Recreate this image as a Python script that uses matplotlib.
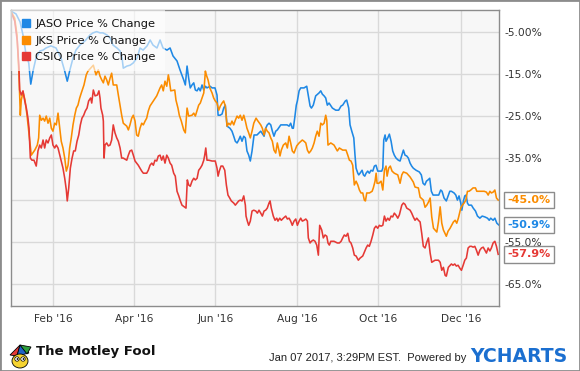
import matplotlib
matplotlib.use("Agg")
import matplotlib.pyplot as plt
import matplotlib.dates as mdates
from matplotlib.lines import Line2D
from matplotlib.patches import Rectangle, Ellipse, Polygon, Circle
import pandas as pd

# start of the one-year window
start = pd.Timestamp("2016-01-07")

# (days since start, price % change)
jaso = [(0, 0.0), (4.0, -0.7), (7.0, -2.6), (9.2, -5.7), (11.4, -10.2), (13.5, -12.4), (15.0, -17.4),
        (16.7, -14.3), (18.9, -11.2), (21.9, -9.5), (24.2, -9.3), (26.4, -8.8), (30.1, -8.3), (33.9, -8.8),
        (37.6, -11.2), (40.4, -14.3), (42.3, -16.7), (44.3, -14.0), (46.6, -11.2), (48.8, -9.3), (51.8, -8.1),
        (55.6, -7.1), (59.3, -5.7), (61.6, -5.2), (64.3, -4.9), (66.8, -5.2), (69.0, -5.2), (72.0, -5.7),
        (74.3, -6.4), (76.5, -8.1), (79.5, -8.8), (81.8, -9.5), (83.3, -11.2), (84.2, -13.6), (87.0, -13.1),
        (89.3, -12.9), (91.5, -12.4), (94.5, -11.2), (96.7, -8.8), (99.0, -9.3), (102.0, -8.3), (104.3, -6.9),
        (106.4, -8.1), (109.4, -8.8), (111.7, -6.9), (113.9, -8.8), (116.9, -9.3), (119.2, -8.8), (121.4, -10.7),
        (124.4, -11.9), (126.6, -14.0), (129.4, -16.4), (130.6, -17.6), (131.9, -13.1), (133.1, -16.0),
        (134.3, -18.3), (135.6, -17.6), (136.9, -17.1), (138.1, -18.8), (139.4, -19.0), (140.6, -18.3),
        (141.8, -19.0), (143.1, -17.6), (144.4, -18.8), (145.6, -17.9), (146.8, -18.3), (149.1, -17.9),
        (150.6, -18.3), (152.8, -18.3), (154.3, -20.0), (155.1, -24.8), (156.6, -24.8), (158.1, -24.5),
        (159.3, -23.1), (160.5, -22.4), (161.8, -27.4), (164.0, -27.9), (165.5, -28.6), (166.8, -29.8),
        (168.0, -31.0), (169.3, -31.4), (170.5, -30.7), (171.7, -29.8), (173.0, -31.0), (174.3, -29.8),
        (175.5, -30.2), (176.7, -33.3), (178.0, -34.3), (179.2, -35.7), (180.5, -33.3), (182.0, -29.5),
        (184.2, -29.5), (187.0, -28.6), (189.5, -29.8), (190.7, -27.9), (191.9, -27.1), (193.2, -26.7),
        (194.5, -27.1), (195.7, -28.6), (196.9, -29.8), (198.2, -28.6), (199.4, -28.3), (202.0, -27.1),
        (204.4, -27.1), (206.7, -27.1), (208.2, -27.4), (209.4, -26.7), (210.6, -27.9), (211.4, -27.9),
        (212.4, -25.5), (213.6, -22.4), (214.4, -21.4), (215.7, -19.0), (216.9, -18.3), (219.4, -18.3),
        (221.4, -17.9), (222.6, -20.2), (223.9, -22.6), (224.9, -23.1), (226.3, -22.4), (228.1, -20.2),
        (230.6, -19.5), (231.9, -19.0), (233.1, -19.8), (234.4, -20.2), (235.6, -20.7), (236.8, -22.4),
        (238.1, -21.9), (240.6, -23.1), (243.1, -23.6), (245.3, -23.6), (247.1, -22.6), (248.3, -22.4),
        (250.3, -21.4), (251.3, -21.2), (252.8, -23.1), (253.8, -27.1), (255.1, -28.6), (256.6, -30.2),
        (257.5, -34.3), (258.3, -37.4), (259.6, -38.6), (260.3, -39.0), (261.3, -38.6), (262.8, -37.9),
        (263.8, -39.0), (264.8, -39.3), (265.8, -38.6), (267.0, -38.1), (268.2, -38.6), (269.5, -37.9),
        (270.8, -38.1), (272.0, -36.9), (273.2, -36.7), (274.5, -38.1), (277.5, -38.1), (278.3, -37.4),
        (279.0, -30.7), (280.0, -29.5), (280.7, -31.0), (282.0, -30.2), (283.2, -29.3), (284.5, -31.0),
        (285.7, -33.3), (286.9, -34.3), (288.2, -35.0), (289.9, -35.5), (291.2, -35.7), (292.5, -34.3),
        (293.7, -33.1), (294.9, -34.3), (296.2, -34.5), (297.4, -35.0), (298.7, -36.2), (299.9, -36.9),
        (301.1, -37.4), (303.2, -37.9), (305.6, -38.3), (307.1, -39.0), (308.4, -41.0), (309.7, -41.4),
        (310.9, -40.5), (312.1, -40.2), (313.4, -39.8), (314.6, -42.9), (315.9, -43.8), (318.3, -43.8),
        (320.1, -43.8), (321.6, -42.6), (322.6, -42.9), (324.1, -44.5), (325.8, -45.2), (328.4, -42.9),
        (329.6, -42.9), (331.6, -43.3), (332.9, -43.8), (334.1, -45.0), (335.3, -44.0), (336.6, -45.7),
        (337.4, -47.4), (338.6, -45.2), (339.6, -44.0), (340.6, -43.8), (341.6, -45.7), (342.6, -46.2),
        (344.6, -46.2), (345.9, -46.9), (347.6, -47.6), (349.1, -48.8), (350.9, -49.3), (352.6, -48.8),
        (354.6, -49.0), (356.6, -49.3), (357.9, -49.8), (359.0, -49.3), (360.8, -49.8), (362.1, -49.3),
        (363.6, -50.5), (365.0, -50.9)]

jks = [(0, 0.0), (3.0, -1.7), (4.7, -5.7), (6.2, -15.2), (7.2, -24.8), (7.9, -21.2), (9.2, -19.3),
       (10.7, -21.2), (12.2, -24.8), (14.2, -30.7), (15.4, -34.3), (18.0, -33.1), (19.9, -31.9), (20.9, -30.2),
       (21.7, -24.8), (22.9, -26.0), (24.2, -25.5), (25.4, -26.2), (26.6, -25.0), (27.9, -26.7), (29.2, -25.5),
       (30.4, -27.9), (31.6, -28.6), (32.9, -26.7), (34.1, -27.1), (35.4, -24.3), (36.7, -27.9), (37.8, -31.0),
       (39.1, -32.6), (40.4, -35.0), (41.6, -38.1), (42.9, -36.7), (44.1, -32.6), (45.3, -30.2), (46.6, -27.1),
       (47.9, -24.8), (49.1, -23.1), (50.3, -22.4), (51.6, -20.7), (52.8, -19.5), (54.8, -17.6), (56.5, -15.2),
       (57.8, -14.3), (59.8, -13.6), (61.8, -12.9), (63.8, -15.2), (65.5, -14.0), (66.8, -15.5), (68.1, -16.4),
       (69.3, -17.1), (70.5, -15.5), (71.8, -16.4), (73.0, -17.6), (74.3, -16.0), (75.5, -14.8), (76.7, -17.6),
       (79.3, -17.6), (80.5, -20.0), (83.0, -24.8), (84.2, -26.7), (86.8, -27.4), (88.0, -28.3), (89.2, -27.1),
       (90.5, -25.5), (91.7, -24.8), (93.0, -26.2), (94.2, -29.5), (95.4, -29.8), (96.7, -27.9), (98.0, -26.7),
       (99.2, -27.1), (100.5, -26.2), (101.7, -25.5), (102.9, -23.8), (104.2, -22.6), (106.7, -21.4),
       (109.2, -20.2), (111.7, -18.3), (112.9, -17.6), (114.1, -19.0), (115.4, -16.7), (116.7, -17.9),
       (117.9, -15.2), (118.6, -16.4), (119.7, -19.0), (122.7, -18.8), (123.6, -21.2), (125.1, -23.1),
       (126.1, -24.8), (127.6, -26.2), (129.4, -28.3), (130.6, -29.0), (131.9, -23.1), (133.1, -25.0),
       (135.6, -24.8), (136.9, -24.3), (138.1, -25.0), (140.6, -22.4), (141.8, -21.9), (143.1, -20.7),
       (144.4, -19.5), (145.6, -14.3), (146.3, -15.2), (147.6, -16.4), (148.9, -18.3), (150.6, -19.5),
       (151.8, -20.7), (153.0, -21.4), (154.3, -21.9), (155.6, -23.6), (156.8, -22.6), (158.1, -21.9),
       (159.3, -21.4), (160.5, -22.6), (161.8, -27.4), (163.1, -26.7), (164.3, -27.1), (165.5, -26.2),
       (166.8, -27.1), (168.0, -26.0), (169.3, -25.0), (170.5, -25.5), (171.7, -24.8), (173.0, -26.0),
       (174.3, -24.8), (175.5, -26.2), (176.7, -27.9), (178.0, -29.0), (179.2, -30.2), (180.5, -28.6),
       (181.8, -26.7), (183.5, -25.5), (184.5, -26.0), (187.0, -27.1), (188.2, -27.9), (189.5, -29.5),
       (190.7, -27.9), (191.9, -28.6), (193.2, -29.0), (194.5, -30.2), (195.7, -31.0), (196.9, -33.1),
       (198.2, -33.8), (199.4, -31.4), (200.7, -33.3), (201.4, -34.5), (202.4, -33.1), (203.9, -31.9),
       (205.7, -31.4), (206.9, -32.6), (208.2, -29.8), (209.4, -31.4), (210.6, -33.3), (211.9, -33.8),
       (213.9, -32.1), (215.7, -31.4), (218.1, -30.7), (219.4, -31.0), (220.7, -31.4), (221.9, -33.1),
       (223.1, -33.8), (224.4, -33.3), (225.6, -32.6), (226.9, -31.4), (228.1, -29.8), (229.3, -28.6),
       (230.6, -29.8), (231.9, -26.7), (233.1, -27.1), (234.4, -26.7), (235.6, -24.8), (236.4, -26.0),
       (237.3, -31.9), (239.4, -31.4), (241.8, -31.9), (244.3, -33.3), (245.8, -32.6), (248.3, -33.1),
       (250.8, -33.1), (252.1, -34.3), (253.3, -35.5), (254.5, -35.7), (255.8, -36.7), (257.0, -41.4),
       (258.3, -40.5), (259.6, -41.4), (260.8, -42.6), (262.0, -43.3), (263.3, -43.3), (264.5, -45.0),
       (265.3, -45.2), (266.3, -43.3), (268.3, -43.3), (270.3, -42.9), (271.2, -42.1), (272.5, -40.5),
       (273.3, -38.6), (274.0, -41.0), (275.3, -41.0), (277.0, -40.5), (278.3, -42.6), (279.5, -37.9),
       (280.7, -36.9), (281.5, -39.3), (282.7, -37.4), (283.9, -36.9), (285.2, -38.1), (286.9, -38.6),
       (289.5, -39.0), (291.2, -41.0), (292.5, -39.0), (293.7, -38.3), (296.2, -38.6), (298.7, -39.5),
       (301.1, -40.7), (302.4, -41.9), (304.9, -42.1), (306.2, -44.3), (308.6, -45.0), (309.9, -46.7),
       (311.2, -46.2), (312.4, -45.5), (313.7, -44.5), (314.9, -49.0), (316.2, -51.7), (318.7, -52.6),
       (319.9, -50.2), (321.2, -46.6), (322.4, -50.5), (323.6, -52.1), (325.8, -53.6), (327.1, -52.4),
       (328.6, -51.7), (331.1, -50.2), (332.4, -49.8), (333.6, -50.5), (334.8, -49.3), (336.6, -46.9),
       (337.8, -46.2), (339.1, -45.7), (340.4, -45.0), (341.6, -42.9), (342.8, -42.9), (344.1, -42.6),
       (345.8, -42.1), (347.6, -42.1), (348.6, -42.9), (350.1, -42.9), (352.1, -42.9), (354.1, -42.9),
       (355.8, -43.1), (357.1, -43.8), (358.4, -42.9), (359.5, -43.3), (360.8, -43.1), (362.1, -42.6),
       (363.3, -44.5), (364.6, -45.0)]

csiq = [(0, 0.0), (3.0, -2.4), (4.9, -7.1), (6.2, -13.6), (6.7, -18.8), (7.9, -20.0), (9.2, -19.0),
        (10.5, -21.4), (11.7, -23.1), (12.9, -25.5), (13.7, -27.9), (14.7, -35.0), (15.9, -35.5), (17.4, -35.5),
        (19.1, -36.9), (20.4, -33.3), (21.7, -31.9), (22.9, -32.6), (24.2, -30.7), (25.4, -32.6), (26.6, -30.7),
        (27.9, -31.4), (29.2, -30.2), (30.4, -29.5), (31.6, -31.9), (32.9, -32.6), (34.1, -31.9), (35.4, -32.6),
        (36.7, -34.3), (37.8, -35.7), (39.1, -37.4), (40.4, -39.8), (41.6, -42.6), (42.3, -45.2), (43.4, -42.1),
        (44.6, -37.4), (45.9, -35.0), (47.1, -33.3), (48.3, -33.3), (49.6, -31.0), (50.9, -29.5), (52.1, -27.1),
        (53.3, -25.5), (54.6, -24.8), (55.8, -23.8), (57.1, -23.1), (58.3, -21.4), (59.8, -20.7), (60.6, -21.9),
        (61.8, -18.8), (63.1, -20.2), (64.8, -20.0), (66.0, -19.0), (66.8, -20.7), (67.5, -23.1), (68.8, -24.8),
        (69.3, -26.2), (69.8, -35.0), (70.5, -31.9), (71.8, -31.4), (73.0, -32.1), (74.3, -31.9), (75.5, -30.7),
        (76.7, -27.1), (78.0, -29.0), (79.3, -30.2), (80.5, -31.0), (81.8, -32.6), (83.0, -35.0), (84.2, -35.0),
        (86.8, -35.5), (88.0, -34.3), (89.2, -33.3), (90.5, -33.1), (91.7, -34.3), (93.0, -35.7), (94.2, -36.2),
        (95.4, -36.7), (96.7, -37.4), (98.0, -38.1), (99.2, -38.6), (101.7, -38.6), (102.9, -37.9),
        (104.2, -36.7), (105.5, -36.2), (106.7, -36.7), (107.9, -35.5), (109.2, -35.7), (110.4, -34.5),
        (111.7, -34.3), (112.9, -35.5), (114.1, -34.5), (115.4, -36.2), (116.7, -34.3), (117.9, -35.0),
        (119.2, -36.2), (120.4, -36.7), (121.9, -38.6), (123.1, -39.3), (124.4, -42.9), (125.7, -44.0),
        (126.9, -45.2), (128.1, -46.2), (130.2, -46.7), (131.1, -46.9), (132.1, -40.2), (133.1, -41.4),
        (134.3, -41.7), (135.6, -40.5), (136.9, -39.8), (138.1, -40.2), (139.4, -39.8), (140.6, -37.9),
        (141.8, -37.4), (143.1, -36.7), (144.4, -35.5), (145.1, -34.3), (145.9, -32.6), (146.8, -35.5),
        (148.1, -35.5), (150.6, -35.7), (153.0, -35.7), (154.3, -37.4), (155.1, -39.3), (156.0, -38.1),
        (157.3, -36.9), (158.6, -36.9), (160.1, -37.9), (161.3, -41.4), (162.5, -43.8), (163.8, -44.5),
        (165.0, -45.2), (166.8, -45.7), (168.0, -46.2), (169.3, -45.7), (170.5, -45.2), (171.7, -45.0),
        (173.0, -45.2), (174.3, -44.0), (175.5, -46.2), (176.0, -48.8), (177.0, -50.0), (178.0, -51.0),
        (179.2, -50.0), (180.5, -47.6), (181.8, -47.4), (183.3, -47.6), (184.5, -48.1), (185.7, -47.4),
        (187.0, -48.1), (188.2, -48.8), (189.5, -47.6), (190.7, -47.4), (191.9, -46.9), (193.2, -45.7),
        (194.0, -45.2), (194.9, -46.9), (196.4, -48.8), (197.7, -49.8), (199.0, -49.3), (199.9, -50.0),
        (201.2, -49.3), (202.4, -49.8), (203.9, -49.3), (205.7, -48.8), (206.9, -49.5), (208.2, -49.3),
        (209.4, -50.0), (210.6, -51.0), (211.9, -50.0), (213.2, -49.5), (214.4, -51.0), (215.7, -50.0),
        (216.9, -49.3), (218.1, -50.0), (219.4, -49.8), (220.7, -49.5), (221.9, -50.0), (222.6, -54.0),
        (223.9, -55.2), (224.9, -54.8), (226.3, -54.5), (227.6, -54.8), (228.9, -55.7), (230.1, -58.1),
        (231.1, -51.0), (232.6, -52.1), (233.8, -54.0), (235.1, -53.3), (236.4, -53.6), (237.3, -55.2),
        (238.3, -55.7), (239.4, -54.8), (241.8, -54.8), (244.3, -55.2), (245.8, -55.2), (247.1, -54.8),
        (248.3, -54.0), (249.5, -53.3), (250.8, -53.6), (252.1, -52.9), (253.3, -54.8), (254.5, -55.2),
        (255.8, -56.4), (257.0, -58.1), (258.3, -58.3), (260.0, -59.3), (261.3, -58.8), (263.3, -58.3),
        (265.8, -56.4), (267.0, -55.7), (268.2, -56.0), (269.5, -54.8), (270.8, -53.3), (272.0, -51.7),
        (273.2, -51.2), (274.5, -51.7), (275.7, -51.0), (277.0, -51.2), (278.3, -51.0), (279.5, -48.8),
        (280.7, -50.0), (282.0, -49.3), (283.2, -49.8), (284.5, -48.8), (285.7, -49.0), (286.9, -48.1),
        (288.2, -48.6), (289.5, -49.3), (290.7, -48.5), (292.5, -46.2), (293.7, -45.7), (294.9, -46.0),
        (296.2, -46.9), (298.7, -47.4), (299.9, -48.1), (301.1, -49.0), (302.4, -49.8), (303.7, -49.3),
        (304.9, -49.8), (306.2, -50.2), (307.4, -52.9), (308.6, -56.0), (309.9, -56.4), (311.2, -55.0),
        (312.4, -54.0), (313.7, -57.6), (314.9, -59.8), (317.4, -59.3), (319.9, -59.3), (321.2, -59.8),
        (322.4, -61.7), (323.6, -61.0), (324.9, -62.9), (325.8, -63.1), (327.3, -61.0), (329.6, -60.2),
        (330.8, -60.5), (332.1, -60.2), (333.3, -60.7), (334.6, -60.5), (335.9, -61.2), (337.1, -61.7),
        (338.4, -60.5), (339.6, -59.3), (340.8, -58.8), (342.1, -56.4), (343.4, -56.0), (344.6, -56.0),
        (345.9, -56.2), (347.1, -56.0), (348.3, -56.9), (349.6, -58.1), (350.9, -56.9), (352.1, -56.4),
        (353.4, -56.2), (354.6, -56.9), (355.8, -57.6), (357.1, -56.4), (358.4, -57.1), (359.5, -56.4),
        (360.8, -55.2), (362.1, -54.8), (363.3, -56.0), (364.6, -57.9)]

tickers = ["JASO", "JKS", "CSIQ"]
colors = ["#1e88e5", "#fb8c00", "#e53935"]
y_ticks = [-5, -15, -25, -35, -45, -55, -65]
y_labels = ["-5.00%", "-15.0%", "-25.0%", "-35.0%", "-45.0%", "-55.0%", "-65.0%"]
x_ticks = ["2016-02-08", "2016-04-08", "2016-06-08", "2016-08-08", "2016-10-08", "2016-12-09"]

W, H = 580, 371
fig = plt.figure(figsize=(W / 100, H / 100), dpi=100)
fig.patch.set_facecolor("white")

# plot area in pixels: x 10.7..499, y 10..306
ax = fig.add_axes([10.7 / W, 1 - 306 / H, (499 - 10.7) / W, (306 - 10) / H])
ax.set_facecolor("#f7f7f7")

for name, data, c in zip(tickers, [jaso, jks, csiq], colors):
    d, v = zip(*data)
    t = start + pd.to_timedelta(list(d), unit="D")
    ax.plot(t, v, color=c, lw=1.15, solid_joinstyle="round")

ax.set_xlim(start, start + pd.Timedelta(days=365.2))
ax.set_ylim(-70.2, 0.24)

ax.yaxis.tick_right()
ax.set_yticks(y_ticks)
ax.set_yticklabels(y_labels)
ax.set_xticks(pd.to_datetime(x_ticks))
ax.xaxis.set_major_formatter(mdates.DateFormatter("%b '%y"))
ax.tick_params(axis="y", length=0, pad=4, labelsize=7.7, colors="#333333")
ax.tick_params(axis="x", length=0, pad=6, labelsize=7.7, colors="#333333")

# the -45% label sits fully under the JKS end tag, as in the original
for lab in ax.get_yticklabels():
    if lab.get_text() == "-45.0%":
        lab.set_visible(False)

ax.grid(color="#d9d9d9", lw=1)
ax.set_axisbelow(True)
for s in ax.spines.values():
    s.set_color("#8c8c8c")
    s.set_linewidth(1)

handles = [Line2D([], [], marker="s", ls="none", color=c, markersize=5.8) for c in colors]
leg = ax.legend(handles, [t + " Price % Change" for t in tickers], loc="upper left",
                bbox_to_anchor=(0, 1), borderaxespad=0, fontsize=8.2, handlelength=1.0,
                handletextpad=0.35, labelspacing=0.58, borderpad=0.8, fancybox=False,
                framealpha=0.6, edgecolor="none", facecolor="white")
for txt in leg.get_texts():
    txt.set_color("#111111")

# end-value tags
for data, c in zip([jaso, jks, csiq], colors):
    v = data[-1][1]
    ax.annotate("%.1f%%" % v, xy=(1, v), xycoords=("axes fraction", "data"),
                xytext=(6, 0), textcoords="offset points", ha="left", va="center",
                color=c, fontweight="bold", fontsize=8, annotation_clip=False,
                bbox=dict(boxstyle="square,pad=0.3", fc="white", ec="#8c8c8c", lw=1))

# footer
fig.text(466 / W, 1 - 358 / H, "Jan 07 2017, 3:29PM EST.  Powered by", ha="right", va="center",
         fontsize=8, color="#222222", family=["Liberation Sans", "DejaVu Sans"])
fig.text(568 / W, 1 - 356 / H, "YCHARTS", ha="right", va="center", fontsize=13.6,
         fontweight="bold", color="#1b6fd0")
fig.text(36 / W, 1 - 352 / H, "The Motley Fool", ha="left", va="center", fontsize=9.5,
         fontweight="bold", color="#111111", family=["Liberation Sans Narrow", "DejaVu Sans"])

# small jester logo
lg = fig.add_axes([7 / W, 1 - 369 / H, 26 / W, 26 / H])
lg.set_xlim(0, 26)
lg.set_ylim(0, 26)
lg.axis("off")
lg.add_patch(Polygon([(3, 14), (13, 24), (10, 13)], fc="#e53935", ec="black", lw=0.6))
lg.add_patch(Polygon([(10, 13), (13, 24), (22, 16)], fc="#1e62c8", ec="black", lw=0.6))
lg.add_patch(Polygon([(13, 24), (24, 22), (20, 15)], fc="#2e9e3e", ec="black", lw=0.6))
lg.add_patch(Ellipse((13, 8), 16, 14, fc="#f6d431", ec="black", lw=0.6))
lg.add_patch(Circle((10, 10), 2.2, fc="white", ec="black", lw=0.5))
lg.add_patch(Circle((16, 10), 2.2, fc="white", ec="black", lw=0.5))
lg.add_patch(Circle((10.5, 10), 0.9, fc="black"))
lg.add_patch(Circle((16.5, 10), 0.9, fc="black"))

# outer border
fig.patches.append(Rectangle((0, 0), 1, 1, transform=fig.transFigure, fill=False,
                             ec="#8c8c8c", lw=2))

fig.savefig("out.png", dpi=100)
